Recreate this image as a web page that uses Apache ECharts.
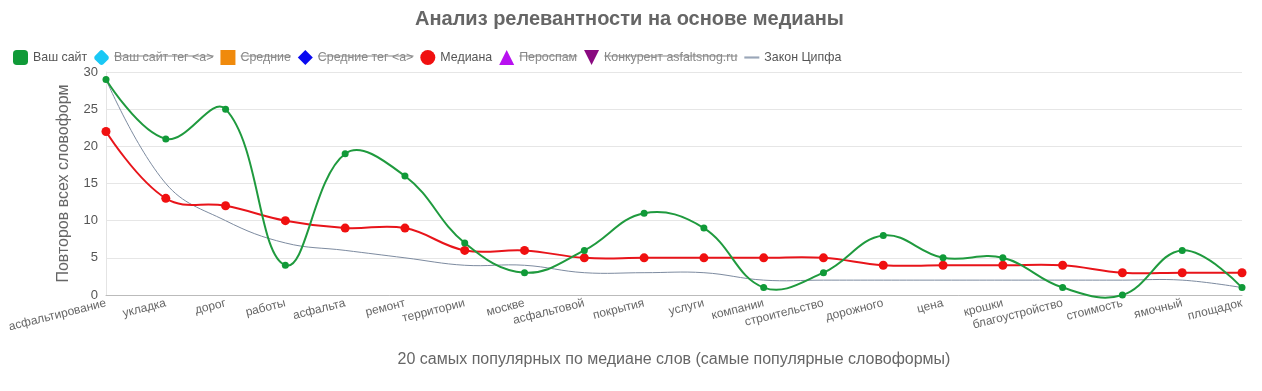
<!DOCTYPE html>
<html>
<head>
<meta charset="utf-8">
<script src="https://cdn.jsdelivr.net/npm/echarts@6/dist/echarts.min.js"></script>
<style>
html,body{margin:0;padding:0;background:#fff;}
#c{width:1262px;height:391px;}
</style>
</head>
<body>
<div id="c"></div>
<script>
const categories = ['асфальтирование','укладка','дорог','работы','асфальта','ремонт','территории','москве','асфальтовой','покрытия','услуги','компании','строительство','дорожного','цена','крошки','благоустройство','стоимость','ямочный','площадок'];
const yourSite = [29,21,25,4,19,16,7,3,6,11,9,1,3,8,5,5,1,0,6,1];
const median = [22,13,12,10,9,9,6,6,5,5,5,5,5,4,4,4,4,3,3,3];
const zipf = [29,15,10,7,6,5,4,4,3,3,3,2,2,2,2,2,2,2,2,1];
const yTicks = [0,5,10,15,20,25,30];

const FONT = 'Liberation Sans, Arial, sans-serif';
const LEG_FS = 12.4, LEG_LEFT = 8, LEG_TOP = 45, LEG_GAP = 7, ICON_W = 15;
const chart = echarts.init(document.getElementById('c'));

const legendItems = [
  {name:'Ваш сайт', icon:'roundRect', color:'#109a38', off:false},
  {name:'Ваш сайт тег <a>', icon:'path://M10,0 Q11,0 12,1 L19,8 Q20,10 19,12 L12,19 Q10,20 8,19 L1,12 Q0,10 1,8 L8,1 Q9,0 10,0 Z', color:'#1ac8f5', off:true},
  {name:'Средние', icon:'rect', color:'#f08a0c', off:true},
  {name:'Средние тег <a>', icon:'diamond', color:'#0a0af0', off:true},
  {name:'Медиана', icon:'circle', color:'#f01010', off:false},
  {name:'Пероспам', icon:'triangle', color:'#b811f0', off:true},
  {name:'Конкурент asfaltsnog.ru', icon:'path://M0,0 L20,0 L10,20 Z', color:'#8a0a80', off:true},
  {name:'Закон Ципфа', icon:'path://M0,0 L14,0 L14,2 L0,2 Z', color:'#9aa6b8', off:false}
];

// smooth curve (chord-length weighted cubic bezier) through points placed by the axis scales
function curveSeries(name, values, color, width, z){
  const S = 0.4;
  return {
    name:name, type:'custom', coordinateSystem:'cartesian2d', z:z, silent:true,
    data:[[0, values[0]]], clip:false,
    renderItem:function(params, api){
      const p = values.map((v,i)=>api.coord([i, v]));
      const n = p.length;
      const cpPrev = [], cpNext = [];
      for(let i=0;i<n;i++){
        if(i===0 || i===n-1){ cpPrev[i]=p[i]; cpNext[i]=p[i]; continue; }
        const a = p[i-1], b = p[i], c = p[i+1];
        const vx = c[0]-a[0], vy = c[1]-a[1];
        const d0 = Math.hypot(b[0]-a[0], b[1]-a[1]);
        const d1 = Math.hypot(c[0]-b[0], c[1]-b[1]);
        const sum = d0 + d1 || 1;
        cpPrev[i] = [b[0] - vx*S*d0/sum, b[1] - vy*S*d0/sum];
        cpNext[i] = [b[0] + vx*S*d1/sum, b[1] + vy*S*d1/sum];
      }
      let d = 'M' + p[0][0] + ',' + p[0][1];
      for(let i=0;i<n-1;i++){
        const c1 = cpNext[i], c2 = cpPrev[i+1], e = p[i+1];
        d += ' C' + c1[0] + ',' + c1[1] + ' ' + c2[0] + ',' + c2[1] + ' ' + e[0] + ',' + e[1];
      }
      return {type:'path', shape:{pathData:d}, style:{stroke:color, lineWidth:width, fill:null}};
    }
  };
}

const series = [
  curveSeries('Ваш сайт', yourSite, '#1f9a3e', 2, 4),
  {name:'Ваш сайт', type:'line', data:yourSite, symbol:'circle', symbolSize:7,
   lineStyle:{opacity:0, width:0}, itemStyle:{color:'#109a38'}, z:6},
  {name:'Ваш сайт тег <a>', type:'line', data:[], itemStyle:{color:'#1ac8f5'}},
  {name:'Средние', type:'line', data:[], itemStyle:{color:'#f08a0c'}},
  {name:'Средние тег <a>', type:'line', data:[], itemStyle:{color:'#0a0af0'}},
  curveSeries('Медиана', median, '#e8141a', 2, 3),
  {name:'Медиана', type:'line', data:median, symbol:'circle', symbolSize:9,
   lineStyle:{opacity:0, width:0}, itemStyle:{color:'#f01010'}, z:5},
  {name:'Пероспам', type:'line', data:[], itemStyle:{color:'#b811f0'}},
  {name:'Конкурент asfaltsnog.ru', type:'line', data:[], itemStyle:{color:'#8a0a80'}},
  curveSeries('Закон Ципфа', zipf, '#7d8ba0', 1, 2)
];

// strike-through lines over the disabled legend entries (mirrors ECharts legend layout)
const cv = document.createElement('canvas').getContext('2d');
cv.font = 'normal normal ' + LEG_FS + 'px ' + FONT;
let lx = LEG_LEFT + 5;
const strikes = [];
legendItems.forEach(it=>{
  const ts = lx + ICON_W + 5;
  const tw = cv.measureText(it.name).width;
  if(it.off) strikes.push([ts, ts + tw]);
  lx = ts + tw + LEG_GAP;
});
const strikeY = LEG_TOP + 5 + 7.5 - 1.5;

chart.setOption({
  animation:false,
  backgroundColor:'#fff',
  title:{text:'Анализ релевантности на основе медианы', left:410, top:4,
    textStyle:{fontFamily:FONT, fontSize:20, fontWeight:'bold', color:'#666'}},
  legend:{left:LEG_LEFT, top:LEG_TOP, itemGap:LEG_GAP, itemWidth:ICON_W, itemHeight:15,
    textStyle:{fontFamily:FONT, fontSize:LEG_FS, color:'#555'},
    selectedMode:false,
    data: legendItems.map(d=>({name:d.name, icon:d.icon, itemStyle:{color:d.color},
      textStyle:{color: d.off ? '#888' : '#555'}}))},
  grid:{left:106, right:20, top:72, bottom:96},
  xAxis:{type:'category', data:categories, boundaryGap:false,
    name:'20 самых популярных по медиане слов (самые популярные словоформы)',
    nameLocation:'middle', nameGap:57,
    nameTextStyle:{fontFamily:FONT, fontSize:16, color:'#666'},
    axisLine:{lineStyle:{color:'#bbb'}}, axisTick:{show:false},
    axisLabel:{rotate:14, interval:0, fontFamily:FONT, fontSize:12, color:'#666', margin:8}},
  yAxis:{type:'value', min:0, max:30, interval:5,
    name:'Повторов всех словоформ', nameLocation:'middle', nameGap:34,
    nameTextStyle:{fontFamily:FONT, fontSize:16, color:'#666'},
    axisLine:{show:true, lineStyle:{color:'#e4e4e4'}}, axisTick:{show:false},
    axisLabel:{fontFamily:FONT, fontSize:13, color:'#555', margin:8,
      formatter:v=> yTicks.includes(v) ? String(v) : ''},
    splitLine:{lineStyle:{color:'#e6e6e6'}}},
  graphic: strikes.map(s=>({type:'line', shape:{x1:s[0], y1:strikeY, x2:s[1], y2:strikeY},
    style:{stroke:'#888', lineWidth:1}, z:100})),
  series: series
});
</script>
</body>
</html>
